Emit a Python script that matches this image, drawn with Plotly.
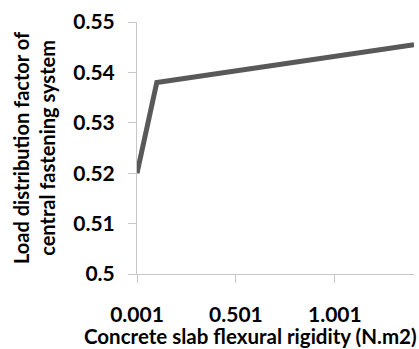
import plotly.graph_objects as go

rigidity = [0.001, 0.101, 1.401]
load_factor = [0.520, 0.538, 0.5455]
x_tick_vals = [0.001, 0.501, 1.001]
x_tick_text = ["0.001", "0.501", "1.001"]
y_tick_vals = [0.5, 0.51, 0.52, 0.53, 0.54, 0.55]
y_tick_text = ["0.5", "0.51", "0.52", "0.53", "0.54", "0.55"]

FONT = "Lato"
axis_col = "#c8c8c8"

fig = go.Figure()
fig.add_trace(go.Scatter(x=rigidity, y=load_factor, mode="lines",
                         line=dict(color="#595959", width=5),
                         showlegend=False, hoverinfo="skip"))

fig.update_layout(
    width=419, height=349,
    margin=dict(l=137, r=5, t=22, b=75),
    paper_bgcolor="white", plot_bgcolor="white",
    font=dict(family=FONT, color="black"),
    xaxis=dict(range=[0.001, 1.401], tickvals=x_tick_vals, ticktext=x_tick_text,
               showgrid=False, zeroline=False, showline=True, linecolor=axis_col,
               linewidth=1, ticks="outside", ticklen=8, tickcolor=axis_col,
               ticklabelstandoff=14,
               tickfont=dict(family=FONT, size=21, weight="bold", color="black")),
    yaxis=dict(range=[0.5, 0.55], tickvals=y_tick_vals, ticktext=y_tick_text,
               showgrid=False, zeroline=False, showline=True, linecolor=axis_col,
               linewidth=1, ticks="outside", ticklen=8, tickcolor=axis_col,
               ticklabelstandoff=9,
               tickfont=dict(family=FONT, size=21, weight="bold", color="black")),
    annotations=[
        dict(text="Concrete slab flexural rigidity (N.m2)", xref="paper", yref="paper",
             x=(250 - 137) / 277, y=-(336 - 274) / 252, xanchor="center", yanchor="middle",
             showarrow=False, font=dict(family=FONT, size=20.5, weight="bold", color="black")),
        dict(text="Load distribution factor of<br>central fastening system", xref="paper", yref="paper",
             x=-(137 - 34) / 277, y=(274 - 148) / 252, xanchor="center", yanchor="middle",
             textangle=-90, showarrow=False,
             font=dict(family=FONT, size=20, weight="bold", color="black")),
    ],
)

fig.write_html("out.html")
